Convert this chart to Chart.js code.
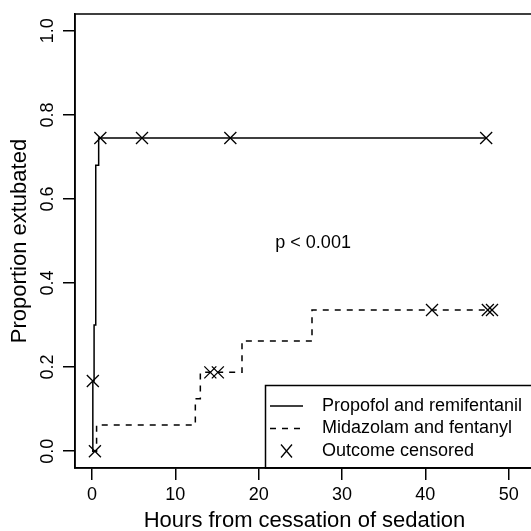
<!DOCTYPE html>
<html><head><meta charset="utf-8">
<script src="https://cdn.jsdelivr.net/npm/chart.js@4/dist/chart.umd.min.js"></script>
<style>
html,body{margin:0;padding:0;background:#fff;overflow:hidden;width:531px;height:531px}
#wrap{position:absolute;left:0;top:0;width:545px;height:531px}
</style></head>
<body><div id="wrap"><canvas id="c" width="545" height="531"></canvas></div>
<script>
// ---- data ----
const propTime = [0, 0.1, 0.25, 0.45, 0.8, 47.3];
const propProportion = [0, 0.167, 0.30, 0.68, 0.745, 0.745];
const propCensorTime = [0.1, 1.0, 6.0, 16.6, 47.3];
const propCensorProportion = [0.167, 0.745, 0.745, 0.745, 0.745];
const midTime = [0, 0.55, 12.4, 13.0, 18.0, 26.4, 48.0];
const midProportion = [0, 0.0625, 0.125, 0.1875, 0.262, 0.336, 0.336];
const midCensorTime = [0.35, 14.2, 15.1, 40.8, 47.5, 48.0];
const midCensorProportion = [0, 0.1875, 0.1875, 0.336, 0.336, 0.336];
const xTicks = [0, 10, 20, 30, 40, 50];
const yTicks = [0, 0.2, 0.4, 0.6, 0.8, 1.0];
const legendLabels = ['Propofol and remifentanil', 'Midazolam and fentanyl', 'Outcome censored'];
const xTitle = 'Hours from cessation of sedation';
const yTitle = 'Proportion extubated';
const pText = 'p < 0.001';

const FONT = '"Liberation Sans", Arial, Helvetica, sans-serif';
Chart.defaults.font.family = FONT;
Chart.defaults.color = '#000';

const pts = (xs, ys) => xs.map((x, i) => ({x: x, y: ys[i]}));

function makeXImage() {
  const c = document.createElement('canvas');
  c.width = 13; c.height = 14;
  const g = c.getContext('2d');
  g.strokeStyle = '#000'; g.lineWidth = 1.3;
  g.beginPath();
  g.moveTo(1, 0.5); g.lineTo(12, 13.5);
  g.moveTo(12, 0.5); g.lineTo(1, 13.5);
  g.stroke();
  return c;
}
const xImg = makeXImage();

const decor = {
  id: 'decor',
  afterLayout(chart) {
    const L = chart.legend;
    if (!L) return;
    L.left = 265.5; L.top = 392.5; L.right = 545; L.bottom = 468;
    L.width = L.right - L.left; L.height = L.bottom - L.top;
  },
  afterDraw(chart) {
    const ctx = chart.ctx, a = chart.chartArea;
    ctx.save();
    ctx.strokeStyle = '#000';
    ctx.lineWidth = 1.5;
    ctx.strokeRect(a.left, a.top, a.right - a.left, a.bottom - a.top);
    ctx.strokeRect(265.5, 385.5, 300, a.bottom - 385.5);
    ctx.fillStyle = '#000';
    ctx.font = '18px ' + FONT;
    ctx.textAlign = 'left';
    ctx.textBaseline = 'middle';
    ctx.fillText(pText, chart.scales.x.getPixelForValue(22), chart.scales.y.getPixelForValue(0.495));
    ctx.restore();
  }
};

new Chart(document.getElementById('c'), {
  type: 'line',
  data: {
    datasets: [
      {label: legendLabels[0], data: pts(propTime, propProportion), stepped: true,
       borderColor: '#000', borderWidth: 1.5, pointRadius: 0, fill: false},
      {label: legendLabels[1], data: pts(midTime, midProportion), stepped: true,
       borderColor: '#000', borderWidth: 1.5, borderDash: [6, 6], pointRadius: 0, fill: false},
      {type: 'scatter', label: 'c1', data: pts(propCensorTime, propCensorProportion), showLine: false,
       pointStyle: 'crossRot', pointRadius: 8.5, pointBorderWidth: 1.3, borderColor: '#000', backgroundColor: '#000'},
      {type: 'scatter', label: 'c2', data: pts(midCensorTime, midCensorProportion), showLine: false,
       pointStyle: 'crossRot', pointRadius: 8.5, pointBorderWidth: 1.3, borderColor: '#000', backgroundColor: '#000'}
    ]
  },
  options: {
    responsive: false,
    animation: false,
    events: [],
    layout: {padding: {left: 0, top: 14, right: 11, bottom: 0}},
    plugins: {
      tooltip: {enabled: false},
      legend: {
        display: true,
        position: 'chartArea',
        align: 'start',
        labels: {
          usePointStyle: true,
          pointStyleWidth: 33,
          boxHeight: 18,
          padding: 4.5,
          color: '#000',
          font: {size: 18},
          generateLabels: () => [
            {text: '  ' + legendLabels[0], pointStyle: 'line', strokeStyle: '#000', fillStyle: '#000', lineWidth: 1.5, lineDash: [], fontColor: '#000', hidden: false},
            {text: '  ' + legendLabels[1], pointStyle: 'line', strokeStyle: '#000', fillStyle: '#000', lineWidth: 1.5, lineDash: [6, 6], fontColor: '#000', hidden: false},
            {text: '  ' + legendLabels[2], pointStyle: xImg, strokeStyle: '#000', fillStyle: '#000', lineWidth: 1.3, lineDash: [], fontColor: '#000', hidden: false}
          ]
        }
      }
    },
    scales: {
      x: {
        type: 'linear', min: -2.04, max: 53.04,
        afterFit: s => { s.height = 63; },
        afterBuildTicks: s => { s.ticks = xTicks.map(v => ({value: v})); },
        ticks: {font: {size: 18}, color: '#000', padding: 4, maxRotation: 0, autoSkip: false, callback: v => String(v)},
        grid: {drawOnChartArea: false, drawTicks: true, tickLength: 12, color: '#000', lineWidth: 1.5},
        border: {display: true, color: '#000', width: 1.5},
        title: {display: true, text: xTitle, color: '#000', font: {size: 22, lineHeight: 0.9}, padding: {top: 0, bottom: 0}}
      },
      y: {
        type: 'linear', min: -0.04, max: 1.04,
        afterFit: s => { s.width = 75; },
        afterBuildTicks: s => { s.ticks = yTicks.map(v => ({value: v})); },
        ticks: {font: {size: 18}, color: '#000', padding: 2.5, minRotation: 90, maxRotation: 90, crossAlign: 'center', autoSkip: false, callback: v => v.toFixed(1)},
        grid: {drawOnChartArea: false, drawTicks: true, tickLength: 12, color: '#000', lineWidth: 1.5},
        border: {display: true, color: '#000', width: 1.5},
        title: {display: true, text: yTitle, color: '#000', font: {size: 22}, padding: {top: 7, bottom: 0}}
      }
    }
  },
  plugins: [decor]
});
</script>
</body></html>
